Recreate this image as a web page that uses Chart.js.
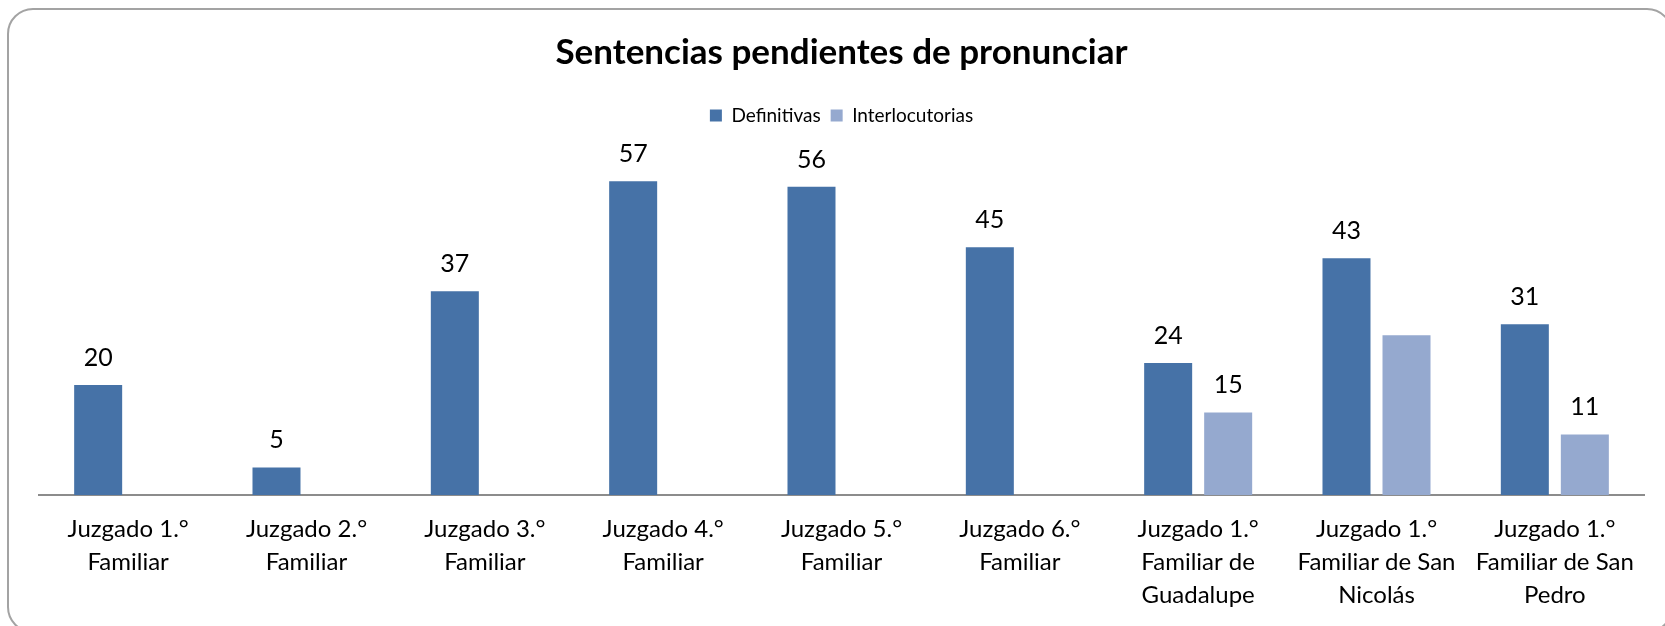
<!DOCTYPE html>
<html>
<head>
<meta charset="utf-8">
<script src="https://cdn.jsdelivr.net/npm/chart.js@4/dist/chart.umd.min.js"></script>
<style>
  html, body { margin: 0; padding: 0; background: #ffffff; }
  #wrap { position: relative; width: 1665px; height: 626px; overflow: hidden; }
  #frame { position: absolute; left: 7px; top: 8px; width: 1666px; height: 625px;
           border: 2px solid #a3a3a3; border-radius: 26px; box-sizing: border-box; }
  canvas { position: absolute; left: 0; top: 0; }
</style>
</head>
<body>
<div id="wrap">
  <div id="frame"></div>
  <canvas id="c" width="1665" height="626"></canvas>
</div>
<script>
const categories = [
  ["Juzgado 1.°", "Familiar"],
  ["Juzgado 2.°", "Familiar"],
  ["Juzgado 3.°", "Familiar"],
  ["Juzgado 4.°", "Familiar"],
  ["Juzgado 5.°", "Familiar"],
  ["Juzgado 6.°", "Familiar"],
  ["Juzgado 1.°", "Familiar de", "Guadalupe"],
  ["Juzgado 1.°", "Familiar de San", "Nicolás"],
  ["Juzgado 1.°", "Familiar de San", "Pedro"]
];
const definitivas = [20, 5, 37, 57, 56, 45, 24, 43, 31];
const interlocutorias = [null, null, null, null, null, null, 15, 29, 11];
// value labels shown in the reference (San Nicolás interlocutorias has none)
const showDefLabel = [true, true, true, true, true, true, true, true, true];
const showIntLabel = [false, false, false, false, false, false, true, false, true];

const FONT = "Lato, 'Open Sans', sans-serif";

const valueLabels = {
  id: 'valueLabels',
  afterDatasetsDraw(chart) {
    const ctx = chart.ctx;
    ctx.save();
    ctx.font = "25px " + FONT;
    ctx.fillStyle = "#000000";
    ctx.textAlign = "center";
    ctx.textBaseline = "alphabetic";
    const flags = [showDefLabel, showIntLabel];
    chart.data.datasets.forEach((ds, di) => {
      const meta = chart.getDatasetMeta(di);
      meta.data.forEach((bar, i) => {
        const v = ds.data[i];
        if (v === null || v === undefined || !flags[di][i]) return;
        ctx.fillText(String(v), bar.x, bar.y - 19);
      });
    });
    ctx.restore();
  }
};

new Chart(document.getElementById('c'), {
  type: 'bar',
  data: {
    labels: categories,
    datasets: [
      { label: 'Definitivas', data: definitivas, backgroundColor: '#4672A7',
        categoryPercentage: 0.673, barPercentage: 0.8 },
      { label: 'Interlocutorias', data: interlocutorias, backgroundColor: '#95A9CF',
        categoryPercentage: 0.673, barPercentage: 0.8 }
    ]
  },
  options: {
    responsive: false,
    animation: false,
    layout: { padding: { left: 39, right: 21, top: 0, bottom: -4 } },
    plugins: {
      title: {
        display: true,
        text: 'Sentencias pendientes de pronunciar',
        color: '#000000',
        font: { family: FONT, size: 35, weight: 'bold', lineHeight: 1.2 },
        padding: { top: 32, bottom: 22 }
      },
      legend: {
        display: true,
        position: 'top',
        labels: {
          color: '#000000',
          font: { family: FONT, size: 19 },
          boxWidth: 12, boxHeight: 12,
          padding: 10
        }
      },
      tooltip: { enabled: false }
    },
    scales: {
      x: {
        grid: { display: false, drawTicks: false },
        border: { display: true, color: '#8c8c8c', width: 2 },
        ticks: {
          color: '#000000',
          font: { family: FONT, size: 24, lineHeight: 1.375 },
          padding: 18,
          maxRotation: 0,
          autoSkip: false
        }
      },
      y: {
        display: false,
        min: 0,
        max: 65.4
      }
    }
  },
  plugins: [valueLabels]
});
</script>
</body>
</html>
